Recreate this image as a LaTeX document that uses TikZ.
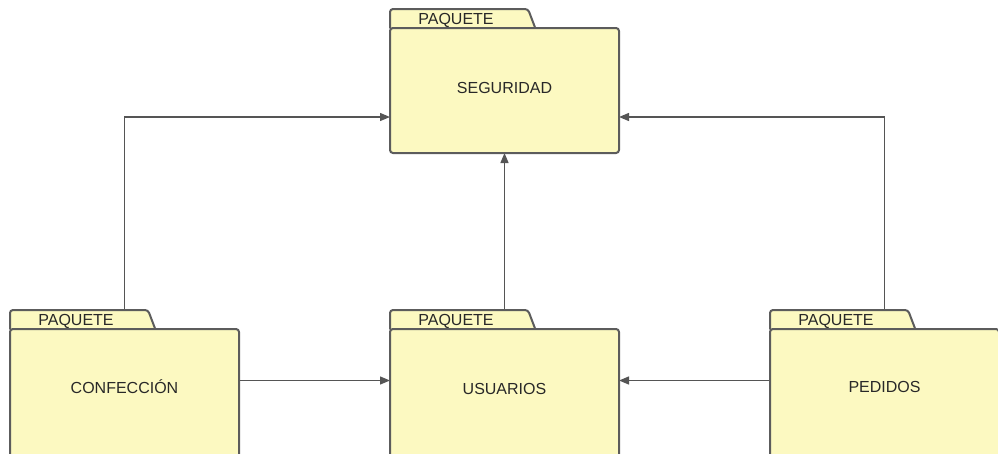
\documentclass[tikz,border=0pt]{standalone}
\usepackage{fontspec}
\setmainfont{Liberation Sans}
\usetikzlibrary{arrows.meta,backgrounds}

\definecolor{pkgfill}{RGB}{252,249,193}
\definecolor{pkgline}{RGB}{92,92,92}
\definecolor{connline}{RGB}{85,85,85}
\definecolor{txt}{RGB}{40,40,40}

\tikzset{
  pkgbody/.style={draw=pkgline, fill=pkgfill, line width=2pt, rounded corners=3pt,
    minimum width=229pt, anchor=north west, inner sep=0pt, outer sep=0pt},
  pkgtab/.style={draw=pkgline, fill=pkgfill, line width=2pt, rounded corners=3pt},
  pkgtext/.style={text=txt, font=\fontsize{16}{19}\selectfont, inner sep=0pt,
    text height=11.4pt, text depth=0pt},
  conn/.style={draw=connline, line width=1.3pt, -{Triangle[length=10pt,width=8pt]}},
}

% UML package folder: #1 name, #2 left x, #3 tab top y, #4 body height, #5 title, #6 title y
\newcommand\pkgfolder[6]{%
  \path[pkgtab] (#2,#3+21) -- (#2,#3) -- (#2+138,#3) -- (#2+146,#3+21) -- cycle;
  \node[pkgbody, minimum height=#4] (#1) at (#2,#3+19) {};
  \node[pkgtext] (#1-tab) at (#2+66,#3+9.5) {PAQUETE};
  \node[pkgtext] (#1-name) at (#2+114.5,#6) {#5};
}

\begin{document}
\begin{tikzpicture}[x=1pt,y=-1pt]
  \useasboundingbox (0,0) rectangle (998,453);

  \pkgfolder{seg}{390}{9}{125pt}{SEGURIDAD}{88}
  \pkgfolder{conf}{10}{310}{132pt}{CONFECCIÓN}{388}
  \pkgfolder{usu}{390}{310}{132pt}{USUARIOS}{389}
  \pkgfolder{ped}{770}{310}{132pt}{PEDIDOS}{387}

  \begin{pgfonlayer}{background}
    \draw[conn] (conf.center) |- ([yshift=-26.5pt]seg.west);
    \draw[conn] (usu.center) -- (seg.south);
    \draw[conn] (ped.center) |- ([yshift=-26.5pt]seg.east);
    \draw[conn] ([yshift=14.5pt]conf.east) -- ([yshift=14.5pt]usu.west);
    \draw[conn] ([yshift=14.5pt]ped.west) -- ([yshift=14.5pt]usu.east);
  \end{pgfonlayer}
\end{tikzpicture}
\end{document}
